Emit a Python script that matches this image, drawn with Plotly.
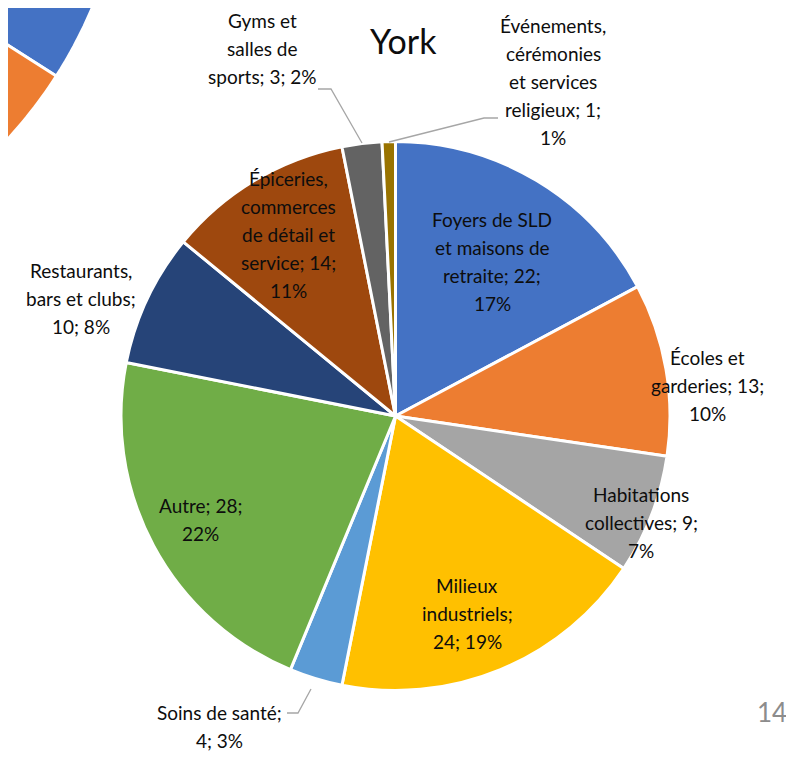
import numpy as np
import plotly.graph_objects as go

# --- data -------------------------------------------------------------
categories = [
    "Foyers de SLD et maisons de retraite",
    "Écoles et garderies",
    "Habitations collectives",
    "Milieux industriels",
    "Soins de santé",
    "Autre",
    "Restaurants, bars et clubs",
    "Épiceries, commerces de détail et service",
    "Gyms et salles de sports",
    "Événements, cérémonies et services religieux",
]
counts = [22, 13, 9, 24, 4, 28, 10, 14, 3, 1]

# how each data label is wrapped in the original
label_lines = [
    ["Foyers de SLD", "et maisons de", "retraite; {v};", "{p}%"],
    ["Écoles et", "garderies; {v};", "{p}%"],
    ["Habitations", "collectives; {v};", "{p}%"],
    ["Milieux", "industriels;", "{v}; {p}%"],
    ["Soins de santé;", "{v}; {p}%"],
    ["Autre; {v};", "{p}%"],
    ["Restaurants,", "bars et clubs;", "{v}; {p}%"],
    ["Épiceries,", "commerces", "de détail et", "service; {v};", "{p}%"],
    ["Gyms et", "salles de", "sports; {v}; {p}%"],
    ["Événements,", "cérémonies", "et services", "religieux; {v};", "{p}%"],
]

colors = ["#4472C4", "#ED7D31", "#A5A5A5", "#FFC000", "#5B9BD5",
          "#70AD47", "#264478", "#9E480E", "#636363", "#997300"]

# --- layout helpers (page pixel positions) ----------------------------
W, H = 794, 757
OFF = 8  # default body margin of the page
FONT = "Lato"
label_pos = [(492, 219), (707, 357), (641, 494), (467, 585), (219, 712),
             (200, 505), (81, 270), (288, 178), (262, 20), (553, 25)]
line_gap = 28
leaders = [
    [(318, 89), (331, 89), (362, 143)],
    [(498, 118), (484, 118), (389, 142)],
    [(287, 713), (298, 713), (311, 689)],
]

# pie geometry in page pixels
cx, cy, r = 395.5, 416, 274.5

total = sum(counts)
pcts = [round(100 * c / total) for c in counts]

fw, fh = W - OFF, H - OFF

fig = go.Figure()
fig.add_trace(go.Pie(
    labels=categories, values=counts, sort=False, direction="clockwise",
    rotation=0, textinfo="none", showlegend=False,
    marker=dict(colors=colors, line=dict(color="white", width=3)),
    domain=dict(x=[(cx - r - OFF) / fw, (cx + r - OFF) / fw],
                y=[(H - (cy + r)) / fh, (H - (cy - r)) / fh]),
))

annotations = []
for i, lines in enumerate(label_lines):
    x0, y0 = label_pos[i]
    for k, ln in enumerate(lines):
        annotations.append(dict(
            x=x0, y=y0 + k * line_gap, xref="x", yref="y",
            text=ln.format(v=counts[i], p=pcts[i]), showarrow=False,
            xanchor="center", yanchor="middle",
            font=dict(family=FONT, size=19, color="#0d0d0d")))

annotations.append(dict(x=403, y=40, xref="x", yref="y", text="York",
                        showarrow=False, xanchor="center", yanchor="middle",
                        font=dict(family=FONT, size=34, color="#0d0d0d")))
annotations.append(dict(x=772, y=712, xref="x", yref="y", text="14",
                        showarrow=False, xanchor="center", yanchor="middle",
                        font=dict(family=FONT, size=26, color="#8c8c8c")))

shapes = []
# leader lines
for pts in leaders:
    path = "M " + " L ".join(f"{x},{y}" for x, y in pts)
    shapes.append(dict(type="path", path=path, xref="x", yref="y",
                       line=dict(color="#a6a6a6", width=1.3), layer="above"))

# fragment of the neighbouring chart cut off at the top-left corner
pc_x, pc_y, pr = -327, -169, 455
for a0, a1, col in [(0, 32.6, "#4472C4"), (32.6, 80, "#ED7D31")]:
    t = np.radians(np.linspace(a0, a1, 60))
    pts = [(pc_x + pr * np.cos(a), pc_y + pr * np.sin(a)) for a in t]
    path = f"M {pc_x},{pc_y} " + " ".join(f"L {x:.1f},{y:.1f}" for x, y in pts) + " Z"
    shapes.append(dict(type="path", path=path, xref="x", yref="y",
                       fillcolor=col, line=dict(color="white", width=3),
                       layer="below"))

fig.update_layout(
    width=fw, height=fh, margin=dict(l=0, r=0, t=0, b=0),
    paper_bgcolor="white", plot_bgcolor="rgba(0,0,0,0)",
    xaxis=dict(range=[OFF, W], visible=False, fixedrange=True, domain=[0, 1]),
    yaxis=dict(range=[H, OFF], visible=False, fixedrange=True, domain=[0, 1]),
    annotations=annotations, shapes=shapes,
)

fig.write_html("out.html")
